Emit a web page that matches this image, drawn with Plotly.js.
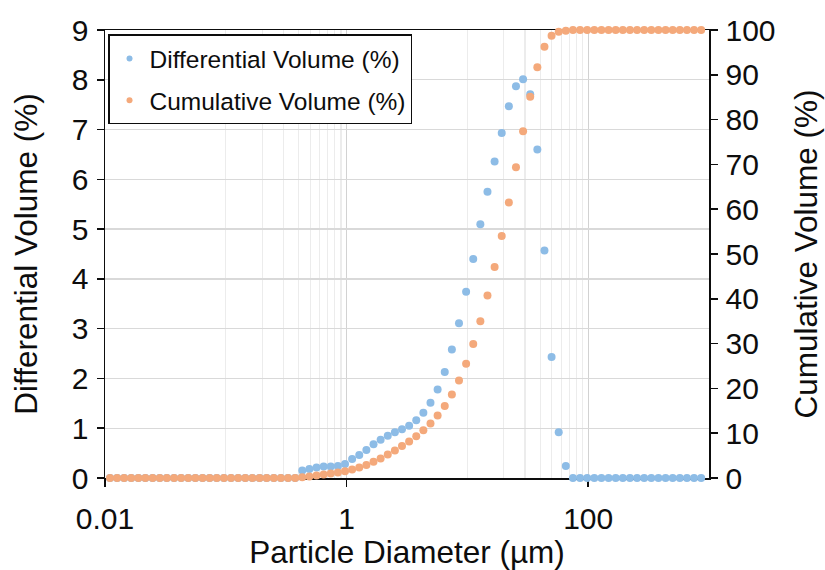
<!DOCTYPE html>
<html>
<head>
<meta charset="utf-8">
<script src="https://cdn.plot.ly/plotly-3.0.1.min.js"></script>
<style>html,body{margin:0;padding:0;background:#fff;}#chart{width:825px;height:570px;}</style>
</head>
<body>
<div id="chart"></div>
<script>
// Particle diameter channels (µm)
const diameters = [0.011, 0.0126, 0.0144, 0.0165, 0.0189, 0.0216, 0.0248, 0.0284, 0.0325, 0.0373,
  0.0427, 0.0489, 0.0560, 0.0642, 0.0735, 0.0842, 0.0965, 0.1105, 0.1266, 0.1450,
  0.1661, 0.1903, 0.2179, 0.2496, 0.2859, 0.3275, 0.3751, 0.4296, 0.4921, 0.5637,
  0.6457, 0.7395, 0.8471, 0.9703, 1.1114, 1.2730, 1.4582, 1.6702, 1.9131, 2.1913,
  2.5100, 2.8750, 3.2930, 3.7719, 4.3204, 4.9487, 5.6683, 6.4926, 7.4367, 8.5182,
  9.7569, 11.1757, 12.8009, 14.6623, 16.7945, 19.2367, 22.0340, 25.2383, 28.9084, 33.1121,
  37.9272, 43.4425, 49.7600, 56.9961, 65.2847, 74.7785, 85.6529, 98.1090, 112.375, 128.717,
  147.434, 168.873, 193.430, 221.558, 253.776, 290.680, 332.950, 381.366, 436.824, 500.346,
  573.106, 656.447, 751.904, 861.244];

// Differential volume (%)
const differential = [0, 0, 0, 0, 0, 0, 0, 0, 0, 0,
  0, 0, 0, 0, 0, 0, 0, 0, 0, 0,
  0, 0, 0, 0, 0, 0, 0, 0.15, 0.18, 0.21,
  0.23, 0.23, 0.24, 0.28, 0.38, 0.46, 0.56, 0.68, 0.77, 0.85,
  0.92, 0.98, 1.05, 1.16, 1.31, 1.51, 1.78, 2.13, 2.58, 3.11,
  3.74, 4.40, 5.10, 5.75, 6.36, 6.93, 7.47, 7.87, 8.01, 7.71,
  6.60, 4.57, 2.43, 0.92, 0.24, 0, 0, 0, 0, 0,
  0, 0, 0, 0, 0, 0, 0, 0, 0, 0,
  0, 0, 0, 0];

// Cumulative volume (%)
const cumulative = [0, 0, 0, 0, 0, 0, 0, 0, 0, 0,
  0, 0, 0, 0, 0, 0, 0, 0, 0, 0,
  0, 0, 0, 0, 0, 0, 0, 0.15, 0.33, 0.54,
  0.77, 1.00, 1.24, 1.52, 1.90, 2.36, 2.92, 3.60, 4.37, 5.22,
  6.14, 7.12, 8.17, 9.33, 10.64, 12.15, 13.93, 16.06, 18.64, 21.75,
  25.49, 29.89, 34.99, 40.74, 47.10, 54.03, 61.50, 69.37, 77.38, 85.09,
  91.69, 96.26, 98.69, 99.61, 99.85, 100, 100, 100, 100, 100,
  100, 100, 100, 100, 100, 100, 100, 100, 100, 100,
  100, 100, 100, 100];

const xTickVals = [0.01, 1, 100];
const xTickText = ['0.01', '1', '100'];
const xMinorVals = [0.1, 0.2, 0.3, 0.4, 0.5, 0.6, 0.7, 0.8, 0.9, 10, 20, 30, 40, 50, 60, 70, 80, 90];
const seriesNames = ['Differential Volume (%)', 'Cumulative Volume (%)'];

const blue = '#8dbce6';
const orange = '#f4a97b';
const FONT = 'Liberation Sans, Arial, sans-serif';
const INK = '#0d0d0d';

const traces = [
  {x: diameters, y: differential, type: 'scatter', mode: 'markers', name: seriesNames[0],
   marker: {color: blue, size: 8}, cliponaxis: false, showlegend: false, yaxis: 'y'},
  {x: diameters, y: cumulative, type: 'scatter', mode: 'markers', name: seriesNames[1],
   marker: {color: orange, size: 8}, cliponaxis: false, showlegend: false, yaxis: 'y2'},
  {x: [null], y: [null], type: 'scatter', mode: 'markers', name: seriesNames[0],
   marker: {color: blue, size: 6}, legendgroup: 'a'},
  {x: [null], y: [null], type: 'scatter', mode: 'markers', name: seriesNames[1],
   marker: {color: orange, size: 6}, legendgroup: 'b'}
];

const layout = {
  width: 825, height: 570,
  margin: {l: 105, r: 116, t: 30, b: 92},
  paper_bgcolor: '#fff', plot_bgcolor: '#fff',
  font: {family: FONT, color: INK},
  showlegend: true,
  legend: {x: 0.005, y: 0.99, xanchor: 'left', yanchor: 'top',
    bgcolor: '#fff', bordercolor: INK, borderwidth: 1.5,
    font: {family: FONT, size: 24.5, color: INK},
    tracegroupgap: 7, traceorder: 'grouped'},
  xaxis: {type: 'log', range: [-2, 3], tickmode: 'array', tickvals: xTickVals, ticktext: xTickText,
    ticks: 'outside', ticklen: 7, tickwidth: 1.5, tickcolor: INK,
    showline: true, linecolor: INK, linewidth: 1.5, mirror: true,
    showgrid: true, gridcolor: '#d2d2d2', gridwidth: 1.2,
    minor: {tickmode: 'array', tickvals: xMinorVals, showgrid: true, gridcolor: '#ececec', gridwidth: 1.2, ticks: ''},
    zeroline: false, layer: 'below traces', ticklabelstandoff: 6,
    tickfont: {family: FONT, size: 30, color: INK},
    title: {text: 'Particle Diameter (µm)', font: {family: FONT, size: 31.5, color: INK}, standoff: 4}},
  yaxis: {range: [0, 9], dtick: 1, tick0: 0,
    ticks: 'outside', ticklen: 7, tickwidth: 1.5, tickcolor: INK,
    showline: true, linecolor: INK, linewidth: 1.5,
    showgrid: true, gridcolor: '#d9d9d9', gridwidth: 1.3,
    zeroline: false, layer: 'below traces', ticklabelstandoff: 2,
    tickfont: {family: FONT, size: 30, color: INK},
    title: {text: 'Differential Volume (%)', font: {family: FONT, size: 31.5, color: INK}, standoff: 25}},
  yaxis2: {range: [0, 100], dtick: 10, tick0: 0, overlaying: 'y', side: 'right',
    ticks: 'outside', ticklen: 7, tickwidth: 1.5, tickcolor: INK,
    showline: true, linecolor: INK, linewidth: 1.5,
    showgrid: false, zeroline: false, layer: 'below traces', ticklabelstandoff: 2,
    tickfont: {family: FONT, size: 30, color: INK},
    title: {text: 'Cumulative Volume (%)', font: {family: FONT, size: 31.5, color: INK}, standoff: 20}}
};

Plotly.newPlot('chart', traces, layout, {displayModeBar: false, staticPlot: true});
</script>
</body>
</html>
